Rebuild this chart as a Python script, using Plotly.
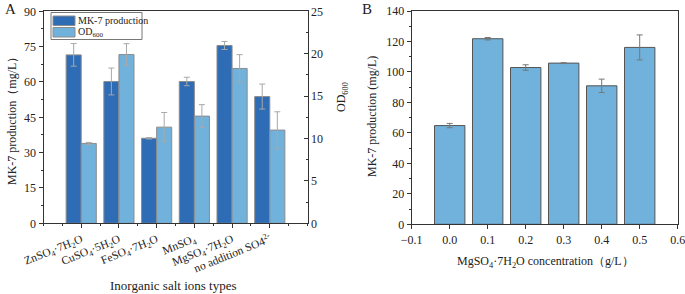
import plotly.graph_objects as go

# ---------------- data ----------------
salt_labels = [
    "ZnSO<sub>4</sub>·7H<sub>2</sub>O",
    "CuSO<sub>4</sub>·5H<sub>2</sub>O",
    "FeSO<sub>4</sub>·7H<sub>2</sub>O",
    "MnSO<sub>4</sub>",
    "MgSO<sub>4</sub>·7H<sub>2</sub>O",
    "no addition SO4<sup>2-</sup>",
]
salt_pos = [0, 1, 2, 3, 4, 5]
mk7_salt = [71.5, 60.2, 36.1, 60.2, 75.5, 53.8]
mk7_salt_err = [4.8, 5.7, 0.3, 1.8, 1.7, 5.3]
od600_salt = [9.42, 19.9, 11.34, 12.64, 18.26, 10.99]
od600_salt_err = [0.12, 1.28, 1.73, 1.35, 1.63, 2.16]

mg_conc = [0.0, 0.1, 0.2, 0.3, 0.4, 0.5]
mk7_mg = [64.8, 121.8, 102.9, 105.8, 90.9, 116.1]
mk7_mg_err = [1.4, 0.8, 1.8, 0.3, 4.4, 8.2]

# ---------------- style ----------------
FONT = "Liberation Serif"
DARK = "#2f6cb6"
LIGHT = "#70b2dc"
ERR = "#a8a8a8"
W, H = 685, 294

def px_x(p):
    return p / W

def px_y(p):
    return 1 - p / H

fig = go.Figure()

fig.add_trace(go.Bar(
    x=salt_pos, y=mk7_salt, name="MK-7 production",
    width=0.4, offset=-0.4,
    marker=dict(color=DARK, line=dict(color="#8c8c8c", width=1)),
    error_y=dict(type="data", array=mk7_salt_err, color=ERR, thickness=1, width=3),
    xaxis="x", yaxis="y",
))
fig.add_trace(go.Bar(
    x=salt_pos, y=od600_salt, name="OD<sub>600</sub>",
    width=0.4, offset=0.0,
    marker=dict(color=LIGHT, line=dict(color="#8c8c8c", width=1)),
    error_y=dict(type="data", array=od600_salt_err, color=ERR, thickness=1, width=3),
    xaxis="x", yaxis="y2",
))
fig.add_trace(go.Bar(
    x=mg_conc, y=mk7_mg, name="MK-7 (MgSO4)", showlegend=False,
    width=0.08,
    marker=dict(color=LIGHT, line=dict(color="#555555", width=1)),
    error_y=dict(type="data", array=mk7_mg_err, color="#777777", thickness=1, width=3),
    xaxis="x3", yaxis="y3",
))

axis_common = dict(
    showline=True, linecolor="#333333", linewidth=1,
    showgrid=False, zeroline=False, automargin=False,
    tickfont=dict(family=FONT, size=12, color="#222222"),
    tickcolor="#333333", ticklen=4, ticklabeloverflow="allow",
)

fig.update_layout(
    width=W, height=H,
    margin=dict(l=0, r=0, t=0, b=0, autoexpand=False),
    paper_bgcolor="white", plot_bgcolor="white",
    font=dict(family=FONT, size=12, color="#222222"),
    barmode="overlay",
    showlegend=False,
    xaxis=dict(
        axis_common,
        domain=[px_x(43.5), px_x(307.5)], range=[-1, 6],
        tickmode="array", tickvals=salt_pos, ticktext=salt_labels,
        tickangle=-22, ticks="outside", mirror=True,
        tickfont=dict(family=FONT, size=11.5, color="#222222"),
        minor=dict(dtick=0.5, tick0=0.5, ticks="outside", ticklen=2, tickcolor="#333333"),
        anchor="y",
    ),
    yaxis=dict(
        axis_common,
        domain=[px_y(223.3), px_y(11.3)], range=[0, 90],
        tickmode="linear", tick0=0, dtick=15, ticks="outside",
        minor=dict(dtick=7.5, ticks="outside", ticklen=2, tickcolor="#333333"),
        anchor="x",
    ),
    yaxis2=dict(
        axis_common,
        overlaying="y", side="right", anchor="x",
        range=[0, 25], tickmode="linear", tick0=0, dtick=5, ticks="inside",
        minor=dict(dtick=2.5, ticks="inside", ticklen=2, tickcolor="#333333"),
    ),
    xaxis3=dict(
        axis_common,
        domain=[px_x(411.7), px_x(677.7)], range=[-0.1, 0.6],
        tickmode="linear", tick0=-0.1, dtick=0.1, tickformat=".1f",
        ticks="outside", mirror=True, anchor="y3",
    ),
    yaxis3=dict(
        axis_common,
        domain=[px_y(224.3), px_y(11)], range=[0, 140],
        tickmode="linear", tick0=0, dtick=20, ticks="outside", mirror=True,
        minor=dict(dtick=10, ticks="outside", ticklen=2, tickcolor="#333333"),
        anchor="x3",
    ),
)

# manual legend box (panel A)
fig.add_shape(type="rect", xref="paper", yref="paper",
              x0=px_x(51), x1=px_x(142), y0=px_y(39.5), y1=px_y(12.5),
              line=dict(color="#777777", width=1), fillcolor="white")
fig.add_shape(type="rect", xref="paper", yref="paper",
              x0=px_x(53), x1=px_x(75), y0=px_y(25.5), y1=px_y(16),
              line=dict(color="#8c8c8c", width=1), fillcolor=DARK)
fig.add_shape(type="rect", xref="paper", yref="paper",
              x0=px_x(53), x1=px_x(75), y0=px_y(37), y1=px_y(27.5),
              line=dict(color="#8c8c8c", width=1), fillcolor=LIGHT)

ann = dict(xref="paper", yref="paper", showarrow=False,
           xanchor="center", yanchor="middle",
           font=dict(family=FONT, size=12, color="#222222"))
leg = dict(xref="paper", yref="paper", showarrow=False,
           xanchor="left", yanchor="middle",
           font=dict(family=FONT, size=10, color="#222222"))
fig.add_annotation(leg, text="MK-7 production", x=px_x(76), y=px_y(20.5))
fig.add_annotation(leg, text="OD<sub>600</sub>", x=px_x(76), y=px_y(32.5))

big = dict(family=FONT, size=15, color="#222222")
fig.add_annotation(ann, text="A", x=px_x(10), y=px_y(9), font=big)
fig.add_annotation(ann, text="B", x=px_x(367), y=px_y(9), font=big)
fig.add_annotation(ann, text="MK-7 production（mg/L）", x=px_x(12), y=px_y(118), textangle=-90)
fig.add_annotation(ann, text="OD<sub>600</sub>", x=px_x(342), y=px_y(97), textangle=-90)
fig.add_annotation(ann, text="Inorganic salt ions types", x=px_x(173), y=px_y(285),
                   font=dict(family=FONT, size=13, color="#222222"))
fig.add_annotation(ann, text="MK-7 production (mg/L)", x=px_x(372), y=px_y(117), textangle=-90)
fig.add_annotation(ann, text="MgSO<sub>4</sub>·7H<sub>2</sub>O concentration（g/L）", x=px_x(545), y=px_y(262))

fig.write_html("out.html", config={"displayModeBar": False},
               post_script="document.body.style.margin='0';document.body.style.overflow='hidden';")
